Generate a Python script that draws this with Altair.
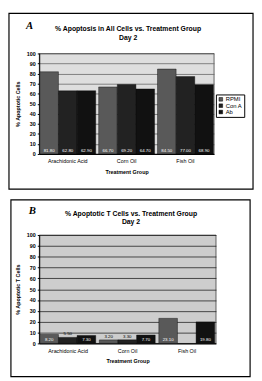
import altair as alt
import pandas as pd

groups = ["Arachidonic Acid", "Corn Oil", "Fish Oil"]
treatments = ["RPMI", "Con A", "Ab"]

a_rpmi = [81.8, 66.7, 84.5]
a_cona = [62.8, 69.2, 77.0]
a_ab = [62.9, 64.7, 68.9]

b_rpmi = [8.2, 3.2, 23.1]
b_cona = [5.5, 3.3, None]
b_ab = [7.3, 7.7, 19.8]

y_ticks = list(range(0, 101, 10))

title_a = ["% Apoptosis in All Cells vs. Treatment Group", "Day 2"]
title_b = ["% Apoptotic T Cells vs. Treatment Group", "Day 2"]


def make_df(rpmi, cona, ab):
    rows = []
    for i, g in enumerate(groups):
        for t, vals in zip(treatments, [rpmi, cona, ab]):
            if vals[i] is not None:
                rows.append({"group": g, "treatment": t, "value": vals[i], "base": 0})
    return pd.DataFrame(rows)


one = pd.DataFrame({"k": [0]})


def panel(df, letter, title, ytitle, w, h, box, letter_pos, title_pos,
          colors, leg_xy, leg_font, grid_color, bg):
    x_enc = alt.X("group:N", sort=groups,
                  scale=alt.Scale(paddingInner=0.05, paddingOuter=0.01),
                  axis=alt.Axis(title="Treatment Group", labelAngle=0, labelFontSize=5.5,
                                labelFont="Liberation Sans", titleFont="Liberation Sans",
                                titleFontSize=5.5, titleFontWeight="bold", ticks=False,
                                labelPadding=5, titlePadding=5, domainColor="black",
                                labelColor="black", titleColor="black"))
    xo = alt.XOffset("treatment:N", sort=treatments, scale=alt.Scale(paddingInner=0, paddingOuter=0))
    y_axis = alt.Axis(title=ytitle, values=y_ticks, labelFontSize=5.5, labelFont="Liberation Sans",
                      labelFontWeight="bold", titleFont="Liberation Sans", titleFontSize=5.5,
                      titleFontWeight="bold", grid=True, gridColor=grid_color, gridWidth=0.8,
                      tickSize=2, tickColor="black", domainColor="black", labelColor="black",
                      titleColor="black", labelPadding=2, titlePadding=6)
    y_scale = alt.Scale(domain=[0, 100], nice=False)

    border = alt.Chart(one).mark_rect(filled=False, stroke="black", strokeWidth=1.2).encode(
        x=alt.value(box[0]), x2=alt.value(box[1]), y=alt.value(box[2]), y2=alt.value(box[3]))
    let = alt.Chart(one).mark_text(font="Liberation Serif", fontWeight="bold", fontStyle="italic",
                                   fontSize=11, color="black").encode(
        x=alt.value(letter_pos[0]), y=alt.value(letter_pos[1]), text=alt.value(letter))
    t1 = alt.Chart(one).mark_text(font="Liberation Sans", fontWeight="bold", fontSize=7,
                                  color="black").encode(
        x=alt.value(title_pos[0]), y=alt.value(title_pos[1]), text=alt.value(title[0]))
    t2 = alt.Chart(one).mark_text(font="Liberation Sans", fontWeight="bold", fontSize=7,
                                  color="black").encode(
        x=alt.value(title_pos[0]), y=alt.value(title_pos[2]), text=alt.value(title[1]))

    bars = alt.Chart(df).mark_bar(stroke="black", strokeWidth=0.4).encode(
        x=x_enc, xOffset=xo,
        y=alt.Y("value:Q", scale=y_scale, axis=y_axis),
        color=alt.Color("treatment:N", sort=treatments,
                        scale=alt.Scale(domain=treatments, range=colors),
                        legend=alt.Legend(title=None, orient="none", legendX=leg_xy[0],
                                          legendY=leg_xy[1], symbolType="square",
                                          symbolSize=14, labelFontSize=leg_font,
                                          labelFont="Liberation Sans", labelColor="black",
                                          strokeColor="black", padding=2, rowPadding=0.5,
                                          symbolStrokeColor="black", symbolStrokeWidth=0.5,
                                          labelOffset=2, fillColor="white")))
    inside = alt.Chart(df).transform_filter("datum.value >= 6").mark_text(
        color="white", fontSize=4.5, font="Liberation Sans", baseline="bottom", dy=-1).encode(
        x=x_enc, xOffset=xo, y=alt.Y("base:Q", scale=y_scale, axis=y_axis),
        text=alt.Text("value:Q", format=".2f"))
    outside = alt.Chart(df).transform_filter("datum.value < 6").mark_text(
        color="black", fontSize=4.5, font="Liberation Sans", baseline="bottom", dy=-1).encode(
        x=x_enc, xOffset=xo, y=alt.Y("value:Q", scale=y_scale, axis=y_axis),
        text=alt.Text("value:Q", format=".2f"))

    return alt.layer(border, bars, inside, outside, let, t1, t2).properties(
        width=w, height=h, view=alt.ViewBackground(fill=bg, stroke="black", strokeWidth=0.6))


df_a = make_df(a_rpmi, a_cona, a_ab)
df_b = make_df(b_rpmi, b_cona, b_ab)

pa = panel(df_a, "A", title_a, "% Apoptotic Cells", 179, 103,
           (-31, 219, -41, 139), (-10, -28), (91, -25, -16),
           ["#595959", "#222222", "#111111"], (181, 42), 6, "#666666", "#dedede")
pb = panel(df_b, "B", title_b, "% Apoptotic T Cells", 181, 111,
           (-29, 216, -36, 145), (-7, -25), (94, -22, -13),
           ["#333333", "#1c1c1c", "#0a0a0a"], (185, 47), 5, "#222222", "#cdcdcd")

chart = alt.vconcat(pa, pb, spacing=9).properties(padding=0).configure(background="white")

chart.save("out.html", embed_options={"renderer": "svg", "actions": False})
